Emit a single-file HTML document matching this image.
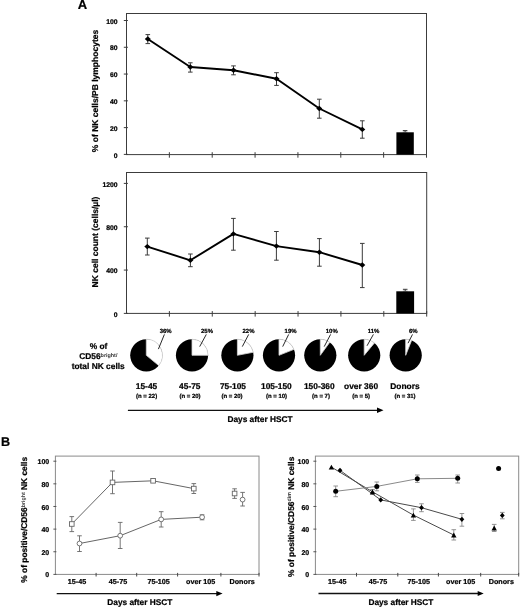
<!DOCTYPE html>
<html><head><meta charset="utf-8"><style>
html,body{margin:0;padding:0;background:#fff;}
body{width:520px;height:607px;overflow:hidden;}
svg text{stroke:#000;stroke-width:0.22px;text-rendering:geometricPrecision;}
svg{display:block;will-change:transform;font-family:"Liberation Sans", sans-serif;}
</style></head><body>
<svg width="520" height="607" viewBox="0 0 520 607">
<rect width="520" height="607" fill="#fff"/>
<text x="77.80" y="9.40" font-size="13" text-anchor="start" font-weight="bold" fill="#000" >A</text>
<text x="0.90" y="446.00" font-size="12.6" text-anchor="start" font-weight="bold" fill="#000" >B</text>
<rect x="126.5" y="13.5" width="300.0" height="141.1" fill="none" stroke="#3c3c3c" stroke-width="1"/>
<line x1="123.80" y1="154.40" x2="127.90" y2="154.40" stroke="#3c3c3c" stroke-width="1" />
<text x="117.50" y="157.50" font-size="6.8" text-anchor="end" font-weight="bold" fill="#000" >0</text>
<line x1="123.80" y1="127.62" x2="127.90" y2="127.62" stroke="#3c3c3c" stroke-width="1" />
<text x="117.50" y="130.72" font-size="6.8" text-anchor="end" font-weight="bold" fill="#000" >20</text>
<line x1="123.80" y1="100.84" x2="127.90" y2="100.84" stroke="#3c3c3c" stroke-width="1" />
<text x="117.50" y="103.94" font-size="6.8" text-anchor="end" font-weight="bold" fill="#000" >40</text>
<line x1="123.80" y1="74.06" x2="127.90" y2="74.06" stroke="#3c3c3c" stroke-width="1" />
<text x="117.50" y="77.16" font-size="6.8" text-anchor="end" font-weight="bold" fill="#000" >60</text>
<line x1="123.80" y1="47.28" x2="127.90" y2="47.28" stroke="#3c3c3c" stroke-width="1" />
<text x="117.50" y="50.38" font-size="6.8" text-anchor="end" font-weight="bold" fill="#000" >80</text>
<line x1="123.80" y1="20.50" x2="127.90" y2="20.50" stroke="#3c3c3c" stroke-width="1" />
<text x="117.50" y="23.60" font-size="6.8" text-anchor="end" font-weight="bold" fill="#000" >100</text>
<line x1="169.36" y1="152.20" x2="169.36" y2="157.70" stroke="#3c3c3c" stroke-width="1" />
<line x1="212.21" y1="152.20" x2="212.21" y2="157.70" stroke="#3c3c3c" stroke-width="1" />
<line x1="255.07" y1="152.20" x2="255.07" y2="157.70" stroke="#3c3c3c" stroke-width="1" />
<line x1="297.93" y1="152.20" x2="297.93" y2="157.70" stroke="#3c3c3c" stroke-width="1" />
<line x1="340.79" y1="152.20" x2="340.79" y2="157.70" stroke="#3c3c3c" stroke-width="1" />
<line x1="383.64" y1="152.20" x2="383.64" y2="157.70" stroke="#3c3c3c" stroke-width="1" />
<line x1="426.50" y1="152.20" x2="426.50" y2="157.70" stroke="#3c3c3c" stroke-width="1" />
<text transform="translate(97.7,91) rotate(-90)" font-size="8.5" font-weight="bold" text-anchor="middle">% of NK cells/PB lymphocytes</text>
<line x1="147.80" y1="34.60" x2="147.80" y2="43.60" stroke="#3a3a3a" stroke-width="1" />
<line x1="145.50" y1="34.60" x2="150.10" y2="34.60" stroke="#3a3a3a" stroke-width="1" />
<line x1="145.50" y1="43.60" x2="150.10" y2="43.60" stroke="#3a3a3a" stroke-width="1" />
<line x1="190.30" y1="62.80" x2="190.30" y2="72.10" stroke="#3a3a3a" stroke-width="1" />
<line x1="188.00" y1="62.80" x2="192.60" y2="62.80" stroke="#3a3a3a" stroke-width="1" />
<line x1="188.00" y1="72.10" x2="192.60" y2="72.10" stroke="#3a3a3a" stroke-width="1" />
<line x1="233.50" y1="65.90" x2="233.50" y2="74.80" stroke="#3a3a3a" stroke-width="1" />
<line x1="231.20" y1="65.90" x2="235.80" y2="65.90" stroke="#3a3a3a" stroke-width="1" />
<line x1="231.20" y1="74.80" x2="235.80" y2="74.80" stroke="#3a3a3a" stroke-width="1" />
<line x1="276.50" y1="72.70" x2="276.50" y2="85.40" stroke="#3a3a3a" stroke-width="1" />
<line x1="274.20" y1="72.70" x2="278.80" y2="72.70" stroke="#3a3a3a" stroke-width="1" />
<line x1="274.20" y1="85.40" x2="278.80" y2="85.40" stroke="#3a3a3a" stroke-width="1" />
<line x1="319.30" y1="99.20" x2="319.30" y2="118.20" stroke="#3a3a3a" stroke-width="1" />
<line x1="317.00" y1="99.20" x2="321.60" y2="99.20" stroke="#3a3a3a" stroke-width="1" />
<line x1="317.00" y1="118.20" x2="321.60" y2="118.20" stroke="#3a3a3a" stroke-width="1" />
<line x1="362.30" y1="120.80" x2="362.30" y2="138.20" stroke="#3a3a3a" stroke-width="1" />
<line x1="360.00" y1="120.80" x2="364.60" y2="120.80" stroke="#3a3a3a" stroke-width="1" />
<line x1="360.00" y1="138.20" x2="364.60" y2="138.20" stroke="#3a3a3a" stroke-width="1" />
<polyline fill="none" stroke="#000" stroke-width="1.9" stroke-linejoin="round" points="147.8,39.0 190.3,67.0 233.5,70.2 276.5,78.8 319.3,108.5 362.3,129.4"/>
<polygon points="144.80,39.00 147.80,36.30 150.80,39.00 147.80,41.70" fill="#000" stroke="none"/>
<polygon points="187.30,67.00 190.30,64.30 193.30,67.00 190.30,69.70" fill="#000" stroke="none"/>
<polygon points="230.50,70.20 233.50,67.50 236.50,70.20 233.50,72.90" fill="#000" stroke="none"/>
<polygon points="273.50,78.80 276.50,76.10 279.50,78.80 276.50,81.50" fill="#000" stroke="none"/>
<polygon points="316.30,108.50 319.30,105.80 322.30,108.50 319.30,111.20" fill="#000" stroke="none"/>
<polygon points="359.30,129.40 362.30,126.70 365.30,129.40 362.30,132.10" fill="#000" stroke="none"/>
<rect x="396.4" y="132.3" width="17.4" height="22.299999999999983" fill="#000"/>
<line x1="405.10" y1="130.60" x2="405.10" y2="132.30" stroke="#3a3a3a" stroke-width="1" />
<line x1="402.80" y1="130.60" x2="407.40" y2="130.60" stroke="#3a3a3a" stroke-width="1" />
<line x1="402.80" y1="132.30" x2="407.40" y2="132.30" stroke="#3a3a3a" stroke-width="1" />
<rect x="126.5" y="172.5" width="300.2" height="140.89999999999998" fill="none" stroke="#3c3c3c" stroke-width="1"/>
<line x1="123.80" y1="313.40" x2="127.90" y2="313.40" stroke="#3c3c3c" stroke-width="1" />
<text x="117.50" y="316.60" font-size="6.8" text-anchor="end" font-weight="bold" fill="#000" >0</text>
<line x1="123.80" y1="270.07" x2="127.90" y2="270.07" stroke="#3c3c3c" stroke-width="1" />
<text x="117.50" y="273.27" font-size="6.8" text-anchor="end" font-weight="bold" fill="#000" >400</text>
<line x1="123.80" y1="226.74" x2="127.90" y2="226.74" stroke="#3c3c3c" stroke-width="1" />
<text x="117.50" y="229.94" font-size="6.8" text-anchor="end" font-weight="bold" fill="#000" >800</text>
<line x1="123.80" y1="183.40" x2="127.90" y2="183.40" stroke="#3c3c3c" stroke-width="1" />
<text x="117.50" y="186.60" font-size="6.8" text-anchor="end" font-weight="bold" fill="#000" >1200</text>
<line x1="169.39" y1="311.10" x2="169.39" y2="316.60" stroke="#3c3c3c" stroke-width="1" />
<line x1="212.27" y1="311.10" x2="212.27" y2="316.60" stroke="#3c3c3c" stroke-width="1" />
<line x1="255.16" y1="311.10" x2="255.16" y2="316.60" stroke="#3c3c3c" stroke-width="1" />
<line x1="298.04" y1="311.10" x2="298.04" y2="316.60" stroke="#3c3c3c" stroke-width="1" />
<line x1="340.93" y1="311.10" x2="340.93" y2="316.60" stroke="#3c3c3c" stroke-width="1" />
<line x1="383.81" y1="311.10" x2="383.81" y2="316.60" stroke="#3c3c3c" stroke-width="1" />
<line x1="426.70" y1="311.10" x2="426.70" y2="316.60" stroke="#3c3c3c" stroke-width="1" />
<text transform="translate(97.7,242) rotate(-90)" font-size="8.5" font-weight="bold" text-anchor="middle">NK cell count (cells/µl)</text>
<line x1="147.30" y1="238.10" x2="147.30" y2="255.00" stroke="#3a3a3a" stroke-width="1" />
<line x1="145.00" y1="238.10" x2="149.60" y2="238.10" stroke="#3a3a3a" stroke-width="1" />
<line x1="145.00" y1="255.00" x2="149.60" y2="255.00" stroke="#3a3a3a" stroke-width="1" />
<line x1="190.40" y1="254.00" x2="190.40" y2="266.70" stroke="#3a3a3a" stroke-width="1" />
<line x1="188.10" y1="254.00" x2="192.70" y2="254.00" stroke="#3a3a3a" stroke-width="1" />
<line x1="188.10" y1="266.70" x2="192.70" y2="266.70" stroke="#3a3a3a" stroke-width="1" />
<line x1="233.40" y1="218.40" x2="233.40" y2="250.20" stroke="#3a3a3a" stroke-width="1" />
<line x1="231.10" y1="218.40" x2="235.70" y2="218.40" stroke="#3a3a3a" stroke-width="1" />
<line x1="231.10" y1="250.20" x2="235.70" y2="250.20" stroke="#3a3a3a" stroke-width="1" />
<line x1="276.40" y1="231.50" x2="276.40" y2="260.20" stroke="#3a3a3a" stroke-width="1" />
<line x1="274.10" y1="231.50" x2="278.70" y2="231.50" stroke="#3a3a3a" stroke-width="1" />
<line x1="274.10" y1="260.20" x2="278.70" y2="260.20" stroke="#3a3a3a" stroke-width="1" />
<line x1="319.40" y1="238.60" x2="319.40" y2="266.20" stroke="#3a3a3a" stroke-width="1" />
<line x1="317.10" y1="238.60" x2="321.70" y2="238.60" stroke="#3a3a3a" stroke-width="1" />
<line x1="317.10" y1="266.20" x2="321.70" y2="266.20" stroke="#3a3a3a" stroke-width="1" />
<line x1="362.30" y1="243.40" x2="362.30" y2="287.60" stroke="#3a3a3a" stroke-width="1" />
<line x1="360.00" y1="243.40" x2="364.60" y2="243.40" stroke="#3a3a3a" stroke-width="1" />
<line x1="360.00" y1="287.60" x2="364.60" y2="287.60" stroke="#3a3a3a" stroke-width="1" />
<polyline fill="none" stroke="#000" stroke-width="1.9" stroke-linejoin="round" points="147.3,246.6 190.4,260.3 233.4,233.9 276.4,246.1 319.4,252.2 362.3,265.0"/>
<polygon points="144.30,246.60 147.30,243.90 150.30,246.60 147.30,249.30" fill="#000" stroke="none"/>
<polygon points="187.40,260.30 190.40,257.60 193.40,260.30 190.40,263.00" fill="#000" stroke="none"/>
<polygon points="230.40,233.90 233.40,231.20 236.40,233.90 233.40,236.60" fill="#000" stroke="none"/>
<polygon points="273.40,246.10 276.40,243.40 279.40,246.10 276.40,248.80" fill="#000" stroke="none"/>
<polygon points="316.40,252.20 319.40,249.50 322.40,252.20 319.40,254.90" fill="#000" stroke="none"/>
<polygon points="359.30,265.00 362.30,262.30 365.30,265.00 362.30,267.70" fill="#000" stroke="none"/>
<rect x="396.3" y="291.3" width="17.8" height="22.099999999999966" fill="#000"/>
<line x1="405.20" y1="289.30" x2="405.20" y2="291.30" stroke="#3a3a3a" stroke-width="1" />
<line x1="402.90" y1="289.30" x2="407.50" y2="289.30" stroke="#3a3a3a" stroke-width="1" />
<line x1="402.90" y1="291.30" x2="407.50" y2="291.30" stroke="#3a3a3a" stroke-width="1" />
<text x="98.50" y="349.20" font-size="8.4" text-anchor="middle" font-weight="bold" fill="#000" >% of</text>
<text x="98.3" y="359.2" font-size="8.4" font-weight="bold" text-anchor="middle">CD56<tspan font-size="5.4" dy="-2.6" style="stroke:none;fill:#333">bright/</tspan></text>
<text x="98.20" y="368.70" font-size="8.4" text-anchor="middle" font-weight="bold" fill="#000" >total NK cells</text>
<circle cx="146.3" cy="355.3" r="16.1" fill="#000"/>
<path d="M146.3,355.3 L146.3,339.2 A16.1,16.1 0 0 1 158.71,365.56 Z" fill="#fff" stroke="#d4d4d4" stroke-width="0.8"/>
<line x1="158.40" y1="349.10" x2="164.40" y2="334.40" stroke="#111" stroke-width="0.9" />
<text x="165.70" y="332.70" font-size="6.0" text-anchor="middle" font-weight="bold" fill="#000" >36%</text>
<circle cx="192.0" cy="355.3" r="16.1" fill="#000"/>
<path d="M192.0,355.3 L192.0,339.2 A16.1,16.1 0 0 1 208.10,355.30 Z" fill="#fff" stroke="#d4d4d4" stroke-width="0.8"/>
<line x1="199.70" y1="346.60" x2="206.30" y2="334.40" stroke="#111" stroke-width="0.9" />
<text x="207.00" y="332.70" font-size="6.0" text-anchor="middle" font-weight="bold" fill="#000" >25%</text>
<circle cx="237.4" cy="355.3" r="16.1" fill="#000"/>
<path d="M237.4,355.3 L237.4,339.2 A16.1,16.1 0 0 1 253.21,352.28 Z" fill="#fff" stroke="#d4d4d4" stroke-width="0.8"/>
<line x1="242.30" y1="346.60" x2="248.70" y2="334.40" stroke="#111" stroke-width="0.9" />
<text x="248.50" y="332.70" font-size="6.0" text-anchor="middle" font-weight="bold" fill="#000" >22%</text>
<circle cx="279.0" cy="355.3" r="16.1" fill="#000"/>
<path d="M279.0,355.3 L279.0,339.2 A16.1,16.1 0 0 1 293.97,349.37 Z" fill="#fff" stroke="#d4d4d4" stroke-width="0.8"/>
<line x1="282.70" y1="346.60" x2="288.70" y2="334.40" stroke="#111" stroke-width="0.9" />
<text x="290.60" y="332.70" font-size="6.0" text-anchor="middle" font-weight="bold" fill="#000" >19%</text>
<circle cx="320.3" cy="355.3" r="16.1" fill="#000"/>
<path d="M320.3,355.3 L320.3,339.2 A16.1,16.1 0 0 1 329.76,342.27 Z" fill="#fff" stroke="#d4d4d4" stroke-width="0.8"/>
<line x1="324.20" y1="346.60" x2="330.60" y2="334.40" stroke="#111" stroke-width="0.9" />
<text x="331.80" y="332.70" font-size="6.0" text-anchor="middle" font-weight="bold" fill="#000" >10%</text>
<circle cx="364.2" cy="355.3" r="16.1" fill="#000"/>
<path d="M364.2,355.3 L364.2,339.2 A16.1,16.1 0 0 1 374.46,342.89 Z" fill="#fff" stroke="#d4d4d4" stroke-width="0.8"/>
<line x1="367.00" y1="345.80" x2="373.40" y2="334.40" stroke="#111" stroke-width="0.9" />
<text x="373.60" y="332.70" font-size="6.0" text-anchor="middle" font-weight="bold" fill="#000" >11%</text>
<circle cx="405.7" cy="355.3" r="16.1" fill="#000"/>
<path d="M405.7,355.3 L405.7,339.2 A16.1,16.1 0 0 1 411.63,340.33 Z" fill="#fff" stroke="#d4d4d4" stroke-width="0.8"/>
<line x1="408.00" y1="343.20" x2="412.50" y2="334.40" stroke="#111" stroke-width="0.9" />
<text x="413.30" y="332.70" font-size="6.0" text-anchor="middle" font-weight="bold" fill="#000" >6%</text>
<text x="146.50" y="388.90" font-size="8.4" text-anchor="middle" font-weight="bold" fill="#000" >15-45</text>
<text x="146.60" y="398.40" font-size="6.0" text-anchor="middle" font-weight="bold" fill="#000" >(n = 22)</text>
<text x="189.80" y="388.90" font-size="8.4" text-anchor="middle" font-weight="bold" fill="#000" >45-75</text>
<text x="190.00" y="398.40" font-size="6.0" text-anchor="middle" font-weight="bold" fill="#000" >(n = 20)</text>
<text x="233.00" y="388.90" font-size="8.4" text-anchor="middle" font-weight="bold" fill="#000" >75-105</text>
<text x="232.00" y="398.40" font-size="6.0" text-anchor="middle" font-weight="bold" fill="#000" >(n = 20)</text>
<text x="276.40" y="388.90" font-size="8.4" text-anchor="middle" font-weight="bold" fill="#000" >105-150</text>
<text x="276.50" y="398.40" font-size="6.0" text-anchor="middle" font-weight="bold" fill="#000" >(n = 10)</text>
<text x="319.30" y="388.90" font-size="8.4" text-anchor="middle" font-weight="bold" fill="#000" >150-360</text>
<text x="321.00" y="398.40" font-size="6.0" text-anchor="middle" font-weight="bold" fill="#000" >(n = 7)</text>
<text x="361.10" y="388.90" font-size="8.4" text-anchor="middle" font-weight="bold" fill="#000" >over 360</text>
<text x="361.10" y="398.40" font-size="6.0" text-anchor="middle" font-weight="bold" fill="#000" >(n = 5)</text>
<text x="404.90" y="388.90" font-size="8.4" text-anchor="middle" font-weight="bold" fill="#000" >Donors</text>
<text x="405.00" y="398.40" font-size="6.0" text-anchor="middle" font-weight="bold" fill="#000" >(n = 31)</text>
<line x1="127.90" y1="410.40" x2="378.00" y2="410.40" stroke="#111" stroke-width="1.3" />
<polygon points="377,407.6 383.5,410.3 377,413.0" fill="#000"/>
<text x="260.00" y="422.00" font-size="8.3" text-anchor="middle" font-weight="bold" fill="#000" >Days after HSCT</text>
<rect x="55.4" y="456.1" width="203.6" height="118.29999999999995" fill="none" stroke="#8a8a8a" stroke-width="1"/>
<line x1="53.40" y1="574.40" x2="56.40" y2="574.40" stroke="#555" stroke-width="1" />
<text x="49.20" y="577.45" font-size="7.0" text-anchor="end" font-weight="bold" fill="#000" >0</text>
<line x1="53.40" y1="551.76" x2="56.40" y2="551.76" stroke="#555" stroke-width="1" />
<text x="49.20" y="554.81" font-size="7.0" text-anchor="end" font-weight="bold" fill="#000" >20</text>
<line x1="53.40" y1="529.12" x2="56.40" y2="529.12" stroke="#555" stroke-width="1" />
<text x="49.20" y="532.17" font-size="7.0" text-anchor="end" font-weight="bold" fill="#000" >40</text>
<line x1="53.40" y1="506.48" x2="56.40" y2="506.48" stroke="#555" stroke-width="1" />
<text x="49.20" y="509.53" font-size="7.0" text-anchor="end" font-weight="bold" fill="#000" >60</text>
<line x1="53.40" y1="483.84" x2="56.40" y2="483.84" stroke="#555" stroke-width="1" />
<text x="49.20" y="486.89" font-size="7.0" text-anchor="end" font-weight="bold" fill="#000" >80</text>
<line x1="53.40" y1="461.20" x2="56.40" y2="461.20" stroke="#555" stroke-width="1" />
<text x="49.20" y="464.25" font-size="7.0" text-anchor="end" font-weight="bold" fill="#000" >100</text>
<line x1="96.10" y1="572.90" x2="96.10" y2="576.50" stroke="#444" stroke-width="1" />
<line x1="136.70" y1="572.90" x2="136.70" y2="576.50" stroke="#444" stroke-width="1" />
<line x1="177.60" y1="572.90" x2="177.60" y2="576.50" stroke="#444" stroke-width="1" />
<line x1="220.90" y1="572.90" x2="220.90" y2="576.50" stroke="#444" stroke-width="1" />
<line x1="259.00" y1="572.90" x2="259.00" y2="576.50" stroke="#444" stroke-width="1" />
<text transform="translate(27.3,519.8) rotate(-90)" font-size="8.4" font-weight="bold" text-anchor="middle">% of positive/CD56<tspan font-size="5.3" dy="-2.6" style="stroke:none;fill:#444">bright</tspan><tspan dy="2.6"> NK cells</tspan></text>
<line x1="71.80" y1="516.60" x2="71.80" y2="531.60" stroke="#666" stroke-width="0.9" />
<line x1="69.50" y1="516.60" x2="74.10" y2="516.60" stroke="#666" stroke-width="0.9" />
<line x1="69.50" y1="531.60" x2="74.10" y2="531.60" stroke="#666" stroke-width="0.9" />
<line x1="112.50" y1="471.00" x2="112.50" y2="493.70" stroke="#666" stroke-width="0.9" />
<line x1="110.20" y1="471.00" x2="114.80" y2="471.00" stroke="#666" stroke-width="0.9" />
<line x1="110.20" y1="493.70" x2="114.80" y2="493.70" stroke="#666" stroke-width="0.9" />
<line x1="153.10" y1="479.30" x2="153.10" y2="482.30" stroke="#666" stroke-width="0.9" />
<line x1="150.80" y1="479.30" x2="155.40" y2="479.30" stroke="#666" stroke-width="0.9" />
<line x1="150.80" y1="482.30" x2="155.40" y2="482.30" stroke="#666" stroke-width="0.9" />
<line x1="193.80" y1="483.60" x2="193.80" y2="493.50" stroke="#666" stroke-width="0.9" />
<line x1="191.50" y1="483.60" x2="196.10" y2="483.60" stroke="#666" stroke-width="0.9" />
<line x1="191.50" y1="493.50" x2="196.10" y2="493.50" stroke="#666" stroke-width="0.9" />
<line x1="79.50" y1="535.80" x2="79.50" y2="551.50" stroke="#666" stroke-width="0.9" />
<line x1="77.20" y1="535.80" x2="81.80" y2="535.80" stroke="#666" stroke-width="0.9" />
<line x1="77.20" y1="551.50" x2="81.80" y2="551.50" stroke="#666" stroke-width="0.9" />
<line x1="120.20" y1="522.40" x2="120.20" y2="548.50" stroke="#666" stroke-width="0.9" />
<line x1="117.90" y1="522.40" x2="122.50" y2="522.40" stroke="#666" stroke-width="0.9" />
<line x1="117.90" y1="548.50" x2="122.50" y2="548.50" stroke="#666" stroke-width="0.9" />
<line x1="161.20" y1="511.70" x2="161.20" y2="527.00" stroke="#666" stroke-width="0.9" />
<line x1="158.90" y1="511.70" x2="163.50" y2="511.70" stroke="#666" stroke-width="0.9" />
<line x1="158.90" y1="527.00" x2="163.50" y2="527.00" stroke="#666" stroke-width="0.9" />
<line x1="202.10" y1="514.80" x2="202.10" y2="519.80" stroke="#666" stroke-width="0.9" />
<line x1="199.80" y1="514.80" x2="204.40" y2="514.80" stroke="#666" stroke-width="0.9" />
<line x1="199.80" y1="519.80" x2="204.40" y2="519.80" stroke="#666" stroke-width="0.9" />
<line x1="234.60" y1="488.80" x2="234.60" y2="498.40" stroke="#666" stroke-width="0.9" />
<line x1="232.30" y1="488.80" x2="236.90" y2="488.80" stroke="#666" stroke-width="0.9" />
<line x1="232.30" y1="498.40" x2="236.90" y2="498.40" stroke="#666" stroke-width="0.9" />
<line x1="242.60" y1="492.40" x2="242.60" y2="506.00" stroke="#666" stroke-width="0.9" />
<line x1="240.30" y1="492.40" x2="244.90" y2="492.40" stroke="#666" stroke-width="0.9" />
<line x1="240.30" y1="506.00" x2="244.90" y2="506.00" stroke="#666" stroke-width="0.9" />
<polyline fill="none" stroke="#666" stroke-width="1" points="71.8,524.0 112.5,482.4 153.1,480.8 193.8,488.6"/>
<polyline fill="none" stroke="#666" stroke-width="1" points="79.5,543.5 120.2,535.7 161.2,519.4 202.1,517.2"/>
<rect x="69.50" y="521.70" width="4.6" height="4.6" fill="#fff" stroke="#666" stroke-width="0.9"/>
<rect x="110.20" y="480.10" width="4.6" height="4.6" fill="#fff" stroke="#666" stroke-width="0.9"/>
<rect x="150.80" y="478.50" width="4.6" height="4.6" fill="#fff" stroke="#666" stroke-width="0.9"/>
<rect x="191.50" y="486.30" width="4.6" height="4.6" fill="#fff" stroke="#666" stroke-width="0.9"/>
<rect x="232.30" y="491.20" width="4.6" height="4.6" fill="#fff" stroke="#666" stroke-width="0.9"/>
<circle cx="79.5" cy="543.5" r="2.4" fill="#fff" stroke="#666" stroke-width="0.9"/>
<circle cx="120.2" cy="535.7" r="2.4" fill="#fff" stroke="#666" stroke-width="0.9"/>
<circle cx="161.2" cy="519.4" r="2.4" fill="#fff" stroke="#666" stroke-width="0.9"/>
<circle cx="202.1" cy="517.2" r="2.4" fill="#fff" stroke="#666" stroke-width="0.9"/>
<circle cx="242.6" cy="499.6" r="2.4" fill="#fff" stroke="#666" stroke-width="0.9"/>
<text x="77.00" y="584.20" font-size="7.2" text-anchor="middle" font-weight="bold" fill="#000" >15-45</text>
<text x="118.00" y="584.20" font-size="7.2" text-anchor="middle" font-weight="bold" fill="#000" >45-75</text>
<text x="158.60" y="584.20" font-size="7.2" text-anchor="middle" font-weight="bold" fill="#000" >75-105</text>
<text x="200.60" y="584.20" font-size="7.2" text-anchor="middle" font-weight="bold" fill="#000" >over 105</text>
<text x="242.10" y="584.20" font-size="7.2" text-anchor="middle" font-weight="bold" fill="#000" >Donors</text>
<line x1="56.70" y1="593.60" x2="217.00" y2="593.60" stroke="#111" stroke-width="1.3" />
<polygon points="216.3,591.0 222.6,593.6 216.3,596.2" fill="#000"/>
<text x="139.80" y="605.10" font-size="8.3" text-anchor="middle" font-weight="bold" fill="#000" >Days after HSCT</text>
<rect x="315.4" y="456.1" width="203.30000000000007" height="118.29999999999995" fill="none" stroke="#8a8a8a" stroke-width="1"/>
<line x1="313.40" y1="574.40" x2="316.40" y2="574.40" stroke="#555" stroke-width="1" />
<text x="309.20" y="577.45" font-size="7.0" text-anchor="end" font-weight="bold" fill="#000" >0</text>
<line x1="313.40" y1="551.76" x2="316.40" y2="551.76" stroke="#555" stroke-width="1" />
<text x="309.20" y="554.81" font-size="7.0" text-anchor="end" font-weight="bold" fill="#000" >20</text>
<line x1="313.40" y1="529.12" x2="316.40" y2="529.12" stroke="#555" stroke-width="1" />
<text x="309.20" y="532.17" font-size="7.0" text-anchor="end" font-weight="bold" fill="#000" >40</text>
<line x1="313.40" y1="506.48" x2="316.40" y2="506.48" stroke="#555" stroke-width="1" />
<text x="309.20" y="509.53" font-size="7.0" text-anchor="end" font-weight="bold" fill="#000" >60</text>
<line x1="313.40" y1="483.84" x2="316.40" y2="483.84" stroke="#555" stroke-width="1" />
<text x="309.20" y="486.89" font-size="7.0" text-anchor="end" font-weight="bold" fill="#000" >80</text>
<line x1="313.40" y1="461.20" x2="316.40" y2="461.20" stroke="#555" stroke-width="1" />
<text x="309.20" y="464.25" font-size="7.0" text-anchor="end" font-weight="bold" fill="#000" >100</text>
<line x1="356.50" y1="572.90" x2="356.50" y2="576.50" stroke="#444" stroke-width="1" />
<line x1="397.80" y1="572.90" x2="397.80" y2="576.50" stroke="#444" stroke-width="1" />
<line x1="438.40" y1="572.90" x2="438.40" y2="576.50" stroke="#444" stroke-width="1" />
<line x1="480.70" y1="572.90" x2="480.70" y2="576.50" stroke="#444" stroke-width="1" />
<line x1="518.70" y1="572.90" x2="518.70" y2="576.50" stroke="#444" stroke-width="1" />
<text transform="translate(293.9,516.8) rotate(-90)" font-size="8.4" font-weight="bold" text-anchor="middle">% of positive/CD56<tspan font-size="5.3" dy="-2.6" style="stroke:none;fill:#222">dim</tspan><tspan dy="2.6"> NK cells</tspan></text>
<line x1="372.50" y1="489.50" x2="372.50" y2="494.50" stroke="#888" stroke-width="0.9" />
<line x1="370.20" y1="489.50" x2="374.80" y2="489.50" stroke="#888" stroke-width="0.9" />
<line x1="370.20" y1="494.50" x2="374.80" y2="494.50" stroke="#888" stroke-width="0.9" />
<line x1="413.40" y1="508.90" x2="413.40" y2="520.40" stroke="#888" stroke-width="0.9" />
<line x1="411.10" y1="508.90" x2="415.70" y2="508.90" stroke="#888" stroke-width="0.9" />
<line x1="411.10" y1="520.40" x2="415.70" y2="520.40" stroke="#888" stroke-width="0.9" />
<line x1="453.80" y1="529.70" x2="453.80" y2="540.00" stroke="#888" stroke-width="0.9" />
<line x1="451.50" y1="529.70" x2="456.10" y2="529.70" stroke="#888" stroke-width="0.9" />
<line x1="451.50" y1="540.00" x2="456.10" y2="540.00" stroke="#888" stroke-width="0.9" />
<line x1="421.50" y1="503.80" x2="421.50" y2="511.70" stroke="#888" stroke-width="0.9" />
<line x1="419.20" y1="503.80" x2="423.80" y2="503.80" stroke="#888" stroke-width="0.9" />
<line x1="419.20" y1="511.70" x2="423.80" y2="511.70" stroke="#888" stroke-width="0.9" />
<line x1="461.90" y1="513.50" x2="461.90" y2="526.20" stroke="#888" stroke-width="0.9" />
<line x1="459.60" y1="513.50" x2="464.20" y2="513.50" stroke="#888" stroke-width="0.9" />
<line x1="459.60" y1="526.20" x2="464.20" y2="526.20" stroke="#888" stroke-width="0.9" />
<line x1="335.70" y1="486.00" x2="335.70" y2="496.70" stroke="#888" stroke-width="0.9" />
<line x1="333.40" y1="486.00" x2="338.00" y2="486.00" stroke="#888" stroke-width="0.9" />
<line x1="333.40" y1="496.70" x2="338.00" y2="496.70" stroke="#888" stroke-width="0.9" />
<line x1="376.80" y1="482.00" x2="376.80" y2="490.80" stroke="#888" stroke-width="0.9" />
<line x1="374.50" y1="482.00" x2="379.10" y2="482.00" stroke="#888" stroke-width="0.9" />
<line x1="374.50" y1="490.80" x2="379.10" y2="490.80" stroke="#888" stroke-width="0.9" />
<line x1="417.30" y1="475.00" x2="417.30" y2="482.40" stroke="#888" stroke-width="0.9" />
<line x1="415.00" y1="475.00" x2="419.60" y2="475.00" stroke="#888" stroke-width="0.9" />
<line x1="415.00" y1="482.40" x2="419.60" y2="482.40" stroke="#888" stroke-width="0.9" />
<line x1="457.70" y1="475.00" x2="457.70" y2="483.00" stroke="#888" stroke-width="0.9" />
<line x1="455.40" y1="475.00" x2="460.00" y2="475.00" stroke="#888" stroke-width="0.9" />
<line x1="455.40" y1="483.00" x2="460.00" y2="483.00" stroke="#888" stroke-width="0.9" />
<line x1="494.20" y1="524.40" x2="494.20" y2="531.50" stroke="#888" stroke-width="0.9" />
<line x1="491.90" y1="524.40" x2="496.50" y2="524.40" stroke="#888" stroke-width="0.9" />
<line x1="491.90" y1="531.50" x2="496.50" y2="531.50" stroke="#888" stroke-width="0.9" />
<line x1="502.30" y1="512.40" x2="502.30" y2="518.80" stroke="#888" stroke-width="0.9" />
<line x1="500.00" y1="512.40" x2="504.60" y2="512.40" stroke="#888" stroke-width="0.9" />
<line x1="500.00" y1="518.80" x2="504.60" y2="518.80" stroke="#888" stroke-width="0.9" />
<polyline fill="none" stroke="#4a4a4a" stroke-width="1.0" points="331.4,467.1 372.5,491.8 413.4,515.1 453.8,535.0"/>
<polyline fill="none" stroke="#4a4a4a" stroke-width="1.0" points="340.0,470.3 380.7,499.9 421.5,507.7 461.9,519.3"/>
<polyline fill="none" stroke="#8a8a8a" stroke-width="1.0" points="335.7,491.3 376.8,486.4 417.3,478.8 457.7,478.3"/>
<polygon points="328.70,469.53 331.40,464.67 334.10,469.53" fill="#000"/>
<polygon points="369.80,494.23 372.50,489.37 375.20,494.23" fill="#000"/>
<polygon points="410.70,517.53 413.40,512.67 416.10,517.53" fill="#000"/>
<polygon points="451.10,537.43 453.80,532.57 456.50,537.43" fill="#000"/>
<polygon points="491.50,530.43 494.20,525.57 496.90,530.43" fill="#000"/>
<polygon points="337.60,470.30 340.00,467.70 342.40,470.30 340.00,472.90" fill="#000" stroke="none"/>
<polygon points="378.30,499.90 380.70,497.30 383.10,499.90 380.70,502.50" fill="#000" stroke="none"/>
<polygon points="419.10,507.70 421.50,505.10 423.90,507.70 421.50,510.30" fill="#000" stroke="none"/>
<polygon points="459.50,519.30 461.90,516.70 464.30,519.30 461.90,521.90" fill="#000" stroke="none"/>
<polygon points="499.90,515.40 502.30,512.80 504.70,515.40 502.30,518.00" fill="#000" stroke="none"/>
<circle cx="335.7" cy="491.3" r="2.5" fill="#000"/>
<circle cx="376.8" cy="486.4" r="2.5" fill="#000"/>
<circle cx="417.3" cy="478.8" r="2.5" fill="#000"/>
<circle cx="457.7" cy="478.3" r="2.5" fill="#000"/>
<circle cx="498.6" cy="468.5" r="2.5" fill="#000"/>
<text x="337.20" y="584.20" font-size="7.2" text-anchor="middle" font-weight="bold" fill="#000" >15-45</text>
<text x="378.00" y="584.20" font-size="7.2" text-anchor="middle" font-weight="bold" fill="#000" >45-75</text>
<text x="418.80" y="584.20" font-size="7.2" text-anchor="middle" font-weight="bold" fill="#000" >75-105</text>
<text x="460.70" y="584.20" font-size="7.2" text-anchor="middle" font-weight="bold" fill="#000" >over 105</text>
<text x="501.30" y="584.20" font-size="7.2" text-anchor="middle" font-weight="bold" fill="#000" >Donors</text>
<line x1="318.50" y1="593.50" x2="478.00" y2="593.50" stroke="#111" stroke-width="1.3" />
<polygon points="477.7,590.9 483.7,593.5 477.7,596.1" fill="#000"/>
<text x="400.90" y="604.90" font-size="8.3" text-anchor="middle" font-weight="bold" fill="#000" >Days after HSCT</text>
</svg>
</body></html>
